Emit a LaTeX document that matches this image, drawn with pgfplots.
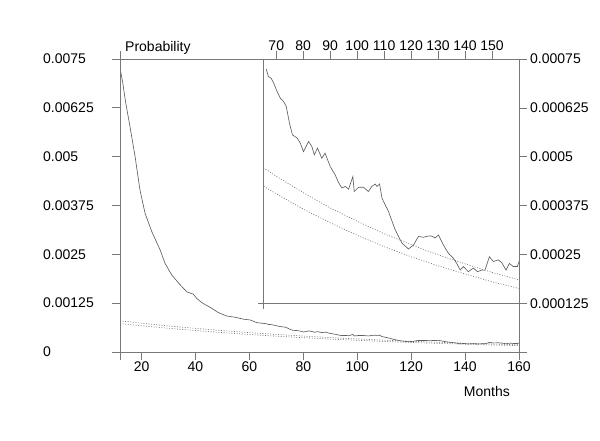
\documentclass[border=0pt]{standalone}
\usepackage{fontspec}
\setmainfont{Liberation Sans}
\usepackage{pgfplots}
\pgfplotsset{compat=1.18}
\usepackage{pgfplotstable}

\definecolor{axisgray}{RGB}{120,120,120}
\definecolor{curvegray}{RGB}{95,95,95}
\definecolor{dotgray}{RGB}{110,110,110}

% observed probability by month
\pgfplotstableread{
m v
12 0.00728
13 0.00690
14 0.00643
15.7 0.00577
17.6 0.00500
19.4 0.00415
21.3 0.00355
23.8 0.00308
26.9 0.00261
28.7 0.00227
31.2 0.00197
34.3 0.00172
36.8 0.00154
39.2 0.00148
40.5 0.00137
42.4 0.00126
45.5 0.00114
48.5 0.00101
51.6 0.00092
54.7 0.00089
57.8 0.00084
60.3 0.00082
62.8 0.00075
66.3 0.000724
67.1 0.000705
68.1 0.000701
69.0 0.000689
70.3 0.000667
71.5 0.000650
72.7 0.000641
73.7 0.000629
74.9 0.000586
76.0 0.000556
77.7 0.000548
78.9 0.000535
80.1 0.000513
82.0 0.000539
83.2 0.000526
84.1 0.000505
85.3 0.000522
86.9 0.000496
88.1 0.000509
90.0 0.000475
91.8 0.000454
93.1 0.000434
94.3 0.000420
95.6 0.000424
96.8 0.000417
98.4 0.000449
98.9 0.000411
100.5 0.000422
102.3 0.000422
104.2 0.000411
105.4 0.000424
106.7 0.000430
107.3 0.000424
108.3 0.000430
109.2 0.000394
111.6 0.000360
114.1 0.000313
116.6 0.000279
119.0 0.000264
120.9 0.000274
122.7 0.000296
124.6 0.000294
126.4 0.000297
127.6 0.000297
128.9 0.000292
130.1 0.000300
132.0 0.000274
133.8 0.000253
135.7 0.000240
136.9 0.000227
138.2 0.000210
139.4 0.000219
141.2 0.000206
143.1 0.000215
144.6 0.000206
146.2 0.000210
147.4 0.000210
149.0 0.000244
150.5 0.000232
152.3 0.000236
153.6 0.000229
155.2 0.000210
156.4 0.000227
157.9 0.000219
159.4 0.000219
160.0 0.000232
}\observed

% upper fitted curve
\pgfplotstableread{
m v
12 0.000797
20 0.000737
30 0.000667
40 0.000605
50 0.000548
60 0.000496
65 0.000473
70 0.000450
80 0.000408
90 0.000369
100 0.000335
110 0.000303
120 0.000275
130 0.000249
140 0.000226
150 0.000204
160 0.000185
}\upperfit

% lower fitted curve
\pgfplotstableread{
m v
12 0.000729
20 0.000672
30 0.000608
40 0.000549
50 0.000496
60 0.000448
65 0.000426
70 0.000405
80 0.000366
90 0.000331
100 0.000299
110 0.000270
120 0.000244
130 0.000221
140 0.000200
150 0.000180
160 0.000163
}\lowerfit

\pgfplotsset{
  common/.style={
    scale only axis,
    axis line style={draw=none},
    tick align=outside,
    major tick length=7.5pt,
    tick style={draw=axisgray, line width=0.7pt},
    scaled ticks=false,
    tick label style={font=\fontsize{14}{16}\selectfont, text=black, inner sep=0pt},
    clip mode=individual,
  },
  solidline/.style={curvegray, line width=0.65pt, mark=none},
  fitline/.style={dotgray, line width=0.6pt, dash pattern=on 1pt off 1.6pt, mark=none},
}

\begin{document}
\begin{tikzpicture}
\useasboundingbox (0,0) rectangle (600pt,440pt);

\begin{axis}[
  common,
  name=main,
  at={(120pt,88pt)}, anchor=south west,
  width=399pt, height=293pt,
  xmin=12, xmax=160, ymin=0, ymax=0.0075,
  xtick={20,40,60,80,100,120,140,160},
  xticklabels={20,40,60,80,100,120,140,160},
  ytick={0,0.00125,0.0025,0.00375,0.005,0.00625,0.0075},
  yticklabels={0,0.00125,0.0025,0.00375,0.005,0.00625,0.0075},
  xtick pos=left, ytick pos=left,
  xticklabel style={anchor=base, yshift=-12.2pt},
  yticklabel style={anchor=west, xshift=-69.5pt},
  xlabel={Months}, ylabel={Probability},
  every axis x label/.style={at={(rel axis cs:1,0)}, anchor=base east, inner sep=0pt,
    xshift=-9pt, yshift=-44.7pt, font=\fontsize{14}{16}\selectfont, text=black},
  every axis y label/.style={at={(rel axis cs:0,1)}, anchor=base west, inner sep=0pt,
    xshift=5pt, yshift=8pt, font=\fontsize{14}{16}\selectfont, text=black},
]
\addplot[fitline] table[x=m, y=v] {\upperfit};
\addplot[fitline] table[x=m, y=v] {\lowerfit};
\addplot[solidline] table[x=m, y=v] {\observed};
\end{axis}

\begin{axis}[
  common,
  name=inset,
  at={(263.3pt,136.7pt)}, anchor=south west,
  width=255.7pt, height=244.3pt,
  xmin=65.2, xmax=160, ymin=0.000125, ymax=0.00075,
  xtick={70,80,90,100,110,120,130,140,150},
  xticklabels={70,80,90,100,110,120,130,140,150},
  ytick={0.000125,0.00025,0.000375,0.0005,0.000625,0.00075},
  yticklabels={0.000125,0.00025,0.000375,0.0005,0.000625,0.00075},
  xtick pos=right, ytick pos=right,
  xticklabel pos=right, yticklabel pos=right,
  xticklabel style={anchor=base, yshift=0.5pt},
  yticklabel style={anchor=west, xshift=3.5pt},
]
\addplot[fitline] table[x=m, y=v] {\upperfit};
\addplot[fitline] table[x=m, y=v] {\lowerfit};
\addplot[solidline, restrict x to domain=66:161] table[x=m, y=v] {\observed};
\end{axis}

% frame lines, drawn a little past the corners
\begin{scope}[draw=axisgray, line width=0.7pt]
\draw ([xshift=-7.5pt]main.north west) -- ([xshift=8pt]main.north east);
\draw ([xshift=-7.5pt]main.south west) -- ([xshift=8pt]main.south east);
\draw ([yshift=8pt]main.north west) -- ([yshift=-7.5pt]main.south west);
\draw (main.north east) -- ([yshift=-7.5pt]main.south east);
\draw (inset.north west) -- ([yshift=-6pt]inset.south west);
\draw ([xshift=-5pt]inset.south west) -- ([xshift=8pt]inset.south east);
\end{scope}
\end{tikzpicture}
\end{document}
